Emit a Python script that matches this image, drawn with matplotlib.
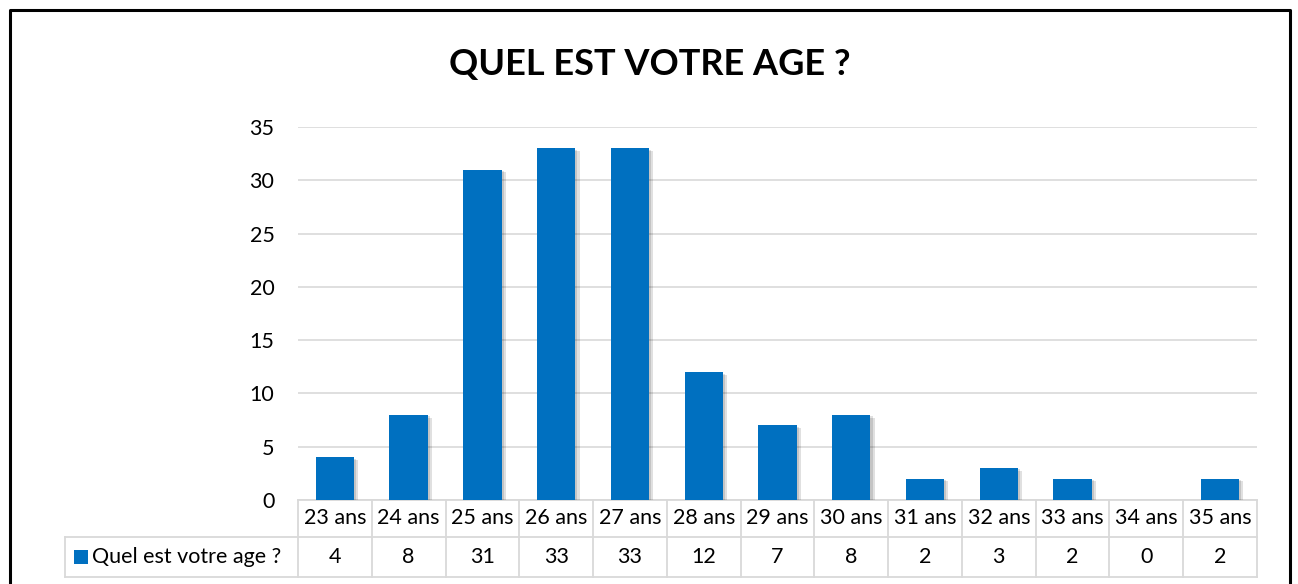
import matplotlib
matplotlib.use("Agg")
import matplotlib.pyplot as plt
import matplotlib.patheffects as pe
from matplotlib.patches import Rectangle
from matplotlib.transforms import blended_transform_factory

plt.rcParams['font.family'] = ['Lato', 'DejaVu Sans']

# data
ages = ['23 ans', '24 ans', '25 ans', '26 ans', '27 ans', '28 ans', '29 ans',
        '30 ans', '31 ans', '32 ans', '33 ans', '34 ans', '35 ans']
counts = [4, 8, 31, 33, 33, 12, 7, 8, 2, 3, 2, 0, 2]
series_name = 'Quel est votre age ?'
title = 'QUEL EST VOTRE AGE ?'
yticks = [0, 5, 10, 15, 20, 25, 30, 35]

W, H = 1298, 584
blue = '#0070C0'
grid = '#D9D9D9'
fs = 15.5

fig = plt.figure(figsize=(W / 100, H / 100), dpi=100)
fig.patch.set_facecolor('white')

def fx(px):
    return px / W

def fy(py):
    return 1 - py / H

# outer chart border (bottom is cut off in the reference)
fig.add_artist(plt.Line2D([fx(10), fx(10), fx(1290), fx(1290)],
                          [0, fy(10), fy(10), 0], transform=fig.transFigure,
                          color='black', lw=2.2))

fig.text(fx(650), fy(65), title, ha='center', va='center', fontsize=26, fontweight='bold')

# plot area
left, right, top, bottom = 298, 1257, 127, 500
ax = fig.add_axes([fx(left), fy(bottom), fx(right - left), (bottom - top) / H])
n = len(ages)
x = list(range(n))
bars = ax.bar(x, counts, width=0.52, color=blue, zorder=3)
for b in bars:
    b.set_path_effects([pe.SimplePatchShadow(offset=(3, -2), shadow_rgbFace='#000000', alpha=0.12),
                        pe.SimplePatchShadow(offset=(1.5, -1), shadow_rgbFace='#000000', alpha=0.12),
                        pe.Normal()])
ax.set_xlim(-0.5, n - 0.5)
ax.set_ylim(0, 35)
ax.set_yticks(yticks)
ax.set_xticks([])
ax.yaxis.grid(True, color=grid, lw=1.2, zorder=0)
for s in ax.spines.values():
    s.set_visible(False)
ax.tick_params(axis='y', length=0, pad=17, labelsize=fs)

# data table underneath
tr = blended_transform_factory(ax.transData, fig.transFigure)
row1_top, row1_bot, row2_bot = fy(500), fy(537), fy(577)
edge = dict(color=grid, lw=1.3, clip_on=False, transform=tr)
ax.plot([-0.5, n - 0.5], [row1_top, row1_top], **edge)
ax.plot([-0.5, n - 0.5], [row1_bot, row1_bot], **edge)
ax.plot([-0.5, n - 0.5], [row2_bot, row2_bot], **edge)
for i in range(n + 1):
    ax.plot([i - 0.5, i - 0.5], [row1_top, row2_bot], **edge)
for i in range(n):
    ax.text(i, (row1_top + row1_bot) / 2, ages[i], transform=tr,
            ha='center', va='center', fontsize=fs, clip_on=False)
    ax.text(i, (row1_bot + row2_bot) / 2, str(counts[i]), transform=tr,
            ha='center', va='center', fontsize=fs, clip_on=False)

# row label cell with legend key
fig.add_artist(plt.Line2D([fx(65), fx(left)], [row1_bot, row1_bot], transform=fig.transFigure, color=grid, lw=1.3))
fig.add_artist(plt.Line2D([fx(65), fx(left)], [row2_bot, row2_bot], transform=fig.transFigure, color=grid, lw=1.3))
fig.add_artist(plt.Line2D([fx(65), fx(65)], [row1_bot, row2_bot], transform=fig.transFigure, color=grid, lw=1.3))
fig.add_artist(Rectangle((fx(74), fy(564)), fx(14), 14 / H, transform=fig.transFigure,
                         facecolor=blue, edgecolor='none'))
fig.text(fx(92), (row1_bot + row2_bot) / 2, series_name, ha='left', va='center', fontsize=fs)

fig.savefig('out.png', dpi=100, facecolor='white')
